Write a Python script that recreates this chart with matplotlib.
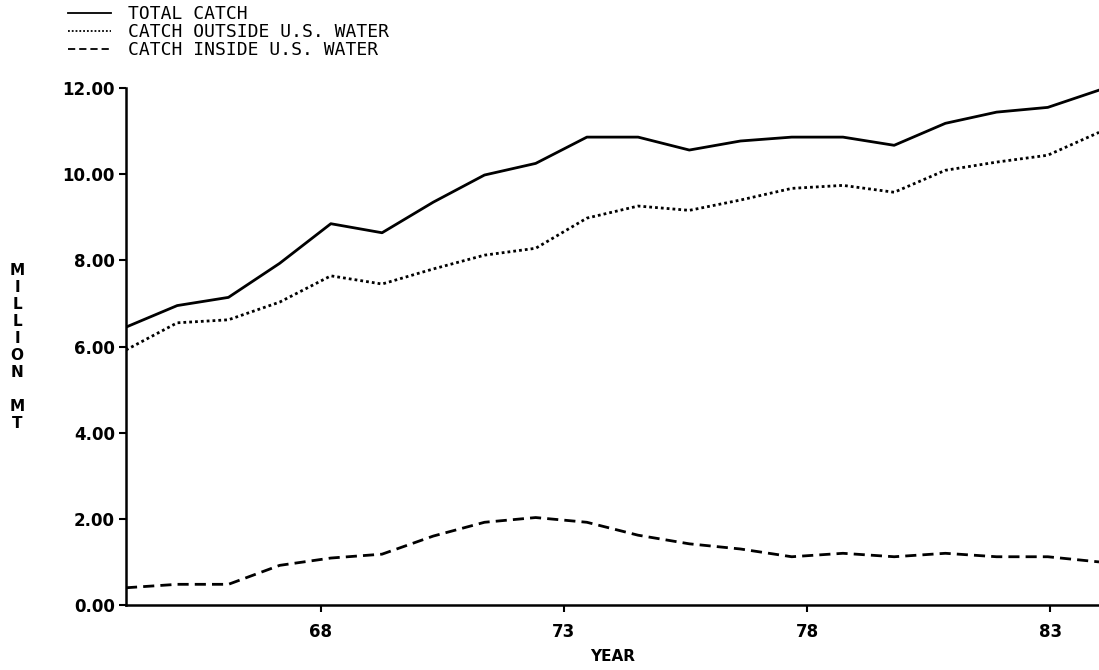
import numpy as np
import matplotlib
matplotlib.use("Agg")
import matplotlib.pyplot as plt

# ---- data (million metric tons) ----
series_labels = ["TOTAL CATCH", "CATCH OUTSIDE U.S. WATER", "CATCH INSIDE U.S. WATER"]
total_catch = [6.45, 6.95, 7.14, 7.93, 8.85, 8.64, 9.35, 9.98, 10.25, 10.86,
               10.86, 10.56, 10.77, 10.86, 10.86, 10.67, 11.18, 11.44, 11.55, 11.95]
catch_outside = [5.92, 6.55, 6.62, 7.03, 7.64, 7.45, 7.80, 8.12, 8.28, 8.98,
                 9.26, 9.16, 9.40, 9.67, 9.74, 9.58, 10.09, 10.28, 10.44, 10.97]
catch_inside = [0.40, 0.48, 0.48, 0.92, 1.09, 1.18, 1.60, 1.92, 2.03, 1.92,
                1.62, 1.42, 1.30, 1.12, 1.20, 1.12, 1.20, 1.12, 1.12, 1.00]
x_range = (64, 84)
x_ticks = [68, 73, 78, 83]
x_tick_labels = ["68", "73", "78", "83"]
y_ticks = [0, 2, 4, 6, 8, 10, 12]
y_tick_labels = [f"{v:.2f}" for v in y_ticks]

# the original plotter spread the yearly points evenly over the axis span
x_pos = np.linspace(x_range[0], x_range[1], len(total_catch))

W, H = 1099, 670
fig = plt.figure(figsize=(W / 100, H / 100), dpi=100)
ax = fig.add_axes([126 / W, 1 - 605 / H, (W - 126) / W, (605 - 88) / H])

l1, = ax.plot(x_pos, total_catch, color="black", lw=2.0, ls="-",
              solid_joinstyle="round", label=series_labels[0])
l2, = ax.plot(x_pos, catch_outside, color="black", lw=2.0, ls=(0, (1, 1.1)),
              label=series_labels[1])
l3, = ax.plot(x_pos, catch_inside, color="black", lw=2.0, ls=(0, (4, 2.2)),
              label=series_labels[2])

ax.set_xlim(*x_range)
ax.set_ylim(0, 12)
ax.set_xticks(x_ticks)
ax.set_xticklabels(x_tick_labels)
ax.set_yticks(y_ticks)
ax.set_yticklabels(y_tick_labels)

for s in ["top", "right"]:
    ax.spines[s].set_visible(False)
for s in ["left", "bottom"]:
    ax.spines[s].set_linewidth(1.8)
ax.tick_params(axis="both", direction="out", length=5, width=1.5,
               labelsize=12, pad=3)
for lab in ax.get_xticklabels() + ax.get_yticklabels():
    lab.set_fontweight("bold")
    lab.set_family("DejaVu Sans")
ax.tick_params(axis="x", pad=8)

ax.set_xlabel("YEAR", fontsize=11, fontweight="bold", labelpad=6)
fig.text(17 / W, 1 - 347 / H, "\n".join("MILLION MT"), ha="center", va="center",
         fontsize=11, fontweight="bold", linespacing=1.16, family="DejaVu Sans")

leg = fig.legend(handles=[l1, l2, l3], loc="upper left",
                 bbox_to_anchor=(68 / W, 1 - 5 / H), frameon=False,
                 borderpad=0, borderaxespad=0, handlelength=2.4,
                 handletextpad=0.9, labelspacing=0.0,
                 prop={"family": "DejaVu Sans Mono", "size": 13})
for h in leg.legend_handles:
    h.set_linewidth(1.3)

fig.savefig("out.png", dpi=100)
